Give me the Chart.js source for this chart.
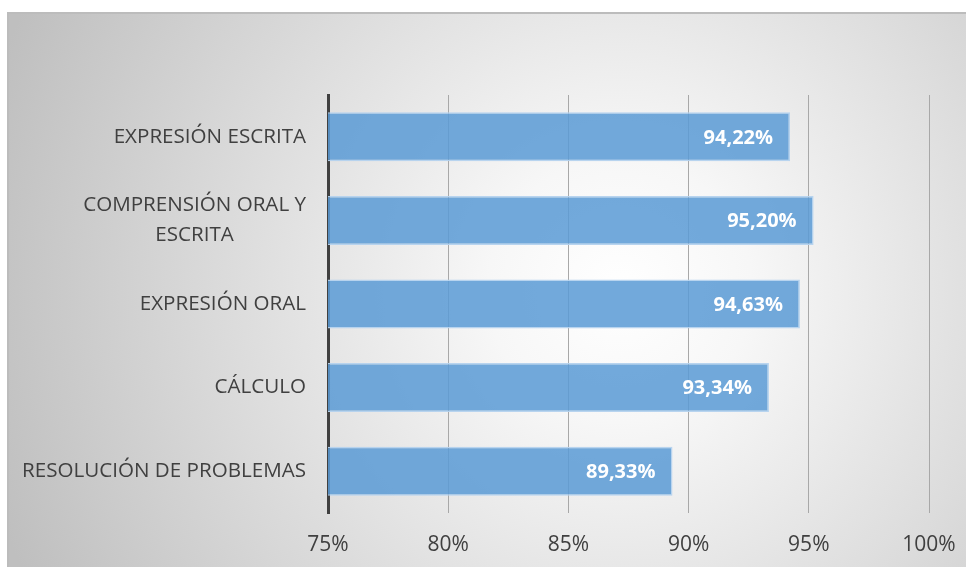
<!DOCTYPE html>
<html>
<head>
<meta charset="utf-8">
<script src="https://cdn.jsdelivr.net/npm/chart.js@4"></script>
<style>
  html, body { margin: 0; padding: 0; background: #fff; }
  #wrap { width: 966px; height: 567px; }
</style>
</head>
<body>
<div id="wrap"><canvas id="competenciasChart" width="966" height="567"></canvas></div>
<script>
const categories = [
    'EXPRESIÓN ESCRITA',
    ['COMPRENSIÓN ORAL Y', 'ESCRITA'],
    'EXPRESIÓN ORAL',
    'CÁLCULO',
    'RESOLUCIÓN DE PROBLEMAS'
];
const percentages = [94.22, 95.20, 94.63, 93.34, 89.33];
const xTicks = [75, 80, 85, 90, 95, 100];

const fontFamily = "'Open Sans', 'Noto Sans', sans-serif";

// fondo degradado y borde del área del gráfico
const backgroundPlugin = {
    id: 'fondo',
    beforeDraw(chart) {
        const c = chart.ctx;
        c.save();
        c.fillStyle = '#ffffff';
        c.fillRect(0, 0, chart.width, chart.height);
        const g = c.createRadialGradient(620, 290, 0, 620, 290, 660);
        g.addColorStop(0, '#ffffff');
        g.addColorStop(0.2, '#f7f7f7');
        g.addColorStop(1, '#bfbfbf');
        c.fillStyle = g;
        c.fillRect(7, 12, chart.width - 7, chart.height - 12);
        c.strokeStyle = '#bcbcbc';
        c.lineWidth = 2;
        c.beginPath();
        c.moveTo(8, chart.height);
        c.lineTo(8, 13);
        c.lineTo(chart.width, 13);
        c.stroke();
        c.restore();
    }
};

// etiquetas del eje Y centradas (varias líneas)
const yLabelsPlugin = {
    id: 'etiquetasY',
    afterDraw(chart) {
        const c = chart.ctx;
        const yScale = chart.scales.y;
        c.save();
        c.font = '20.6px ' + fontFamily;
        c.fillStyle = '#404040';
        c.textBaseline = 'middle';
        c.textAlign = 'left';
        const rightEdge = chart.chartArea.left - 22;
        categories.forEach((label, i) => {
            const lines = Array.isArray(label) ? label : [label];
            const y = yScale.getPixelForValue(i);
            const widths = lines.map(l => c.measureText(l).width);
            const maxW = Math.max(...widths);
            const lineH = 30;
            lines.forEach((l, j) => {
                const ly = y + (j - (lines.length - 1) / 2) * lineH;
                const lx = rightEdge - maxW / 2 - widths[j] / 2;
                c.fillText(l, lx, ly);
            });
        });
        c.restore();
    }
};

// valores dentro de las barras
const valueLabelsPlugin = {
    id: 'valores',
    afterDatasetsDraw(chart) {
        const c = chart.ctx;
        const meta = chart.getDatasetMeta(0);
        c.save();
        c.font = 'bold 20px ' + fontFamily;
        c.fillStyle = '#ffffff';
        c.textAlign = 'right';
        c.textBaseline = 'middle';
        meta.data.forEach((bar, i) => {
            const txt = percentages[i].toFixed(2).replace('.', ',') + '%';
            c.fillText(txt, bar.x - 17, bar.y + 1);
        });
        c.restore();
    }
};

const ctx = document.getElementById('competenciasChart').getContext('2d');

new Chart(ctx, {
    type: 'bar',
    data: {
        labels: categories,
        datasets: [{
            data: percentages,
            backgroundColor: 'rgba(91, 155, 213, 0.86)',
            borderColor: 'rgba(180, 210, 238, 0.95)',
            borderWidth: 1.5,
            borderSkipped: false,
            barPercentage: 0.586,
            categoryPercentage: 1
        }]
    },
    options: {
        indexAxis: 'y',
        responsive: false,
        animation: false,
        layout: {
            padding: { top: 95, right: 37, left: 0, bottom: 0 }
        },
        scales: {
            x: {
                min: 75,
                max: 100,
                afterBuildTicks(axis) {
                    axis.ticks = xTicks.map(v => ({ value: v }));
                },
                afterFit(axis) {
                    axis.height = 54;
                    axis.paddingLeft = 0;
                    axis.paddingRight = 0;
                },
                ticks: {
                    callback: v => v + '%',
                    color: '#404040',
                    padding: 19,
                    maxRotation: 0,
                    font: { family: fontFamily, size: 21 }
                },
                grid: {
                    color: '#a8a8a8',
                    lineWidth: 1,
                    drawTicks: false
                },
                border: { display: false }
            },
            y: {
                afterFit(axis) {
                    axis.width = 328;
                    axis.paddingTop = 0;
                    axis.paddingBottom = 0;
                },
                ticks: { display: false },
                grid: { display: false, drawTicks: false },
                border: { color: '#404040', width: 3 }
            }
        },
        plugins: {
            legend: { display: false },
            tooltip: { enabled: false }
        }
    },
    plugins: [backgroundPlugin, yLabelsPlugin, valueLabelsPlugin]
});
</script>
</body>
</html>
